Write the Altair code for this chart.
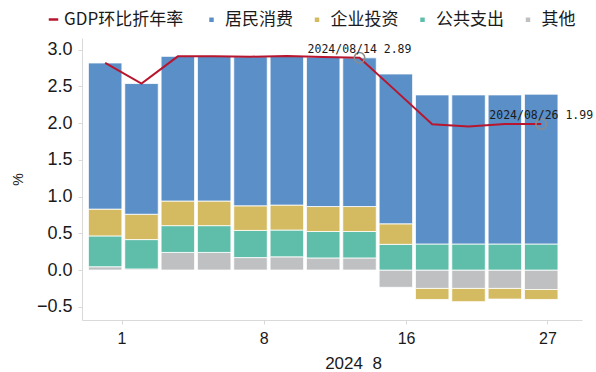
import json
import altair as alt
import pandas as pd

# ---- data ----
bar_index = list(range(13))
consumption = [1.99, 1.78, 1.97, 1.97, 2.03, 2.03, 2.035, 2.025, 2.04, 2.03, 2.03, 2.03, 2.04]
investment = [0.365, 0.345, 0.335, 0.335, 0.335, 0.34, 0.34, 0.34, 0.28, -0.15, -0.18, -0.145, -0.135]
public = [0.42, 0.40, 0.365, 0.365, 0.37, 0.365, 0.36, 0.36, 0.35, 0.355, 0.355, 0.355, 0.355]
other = [0.045, 0.015, 0.24, 0.24, 0.17, 0.18, 0.165, 0.165, -0.235, -0.25, -0.25, -0.25, -0.265]
gdp = [2.82, 2.54, 2.91, 2.91, 2.905, 2.915, 2.90, 2.89, 2.44, 1.985, 1.955, 1.99, 1.99]

line_name = "GDP环比折年率"
line_color = "#B7162E"
bar_names = ["居民消费", "企业投资", "公共支出", "其他"]
bar_colors = ["#5B8FC8", "#D4BB62", "#5FBEAA", "#BFC0C2"]

ann_index = [7, 12]
ann_labels = ["2024/08/14 2.89", "2024/08/26 1.99"]

tick_labels = ["1", "8", "16", "27"]
tick_pos = [0.45, 4.36, 8.28, 12.17]
y_ticks = [-0.5, 0.0, 0.5, 1.0, 1.5, 2.0, 2.5, 3.0]

# ---- tables ----
rows = []
for name, vals, order in [("其他", other, 0), ("公共支出", public, 1),
                          ("企业投资", investment, 2), ("居民消费", consumption, 3)]:
    for i, v in zip(bar_index, vals):
        rows.append({"idx": i, "series": name, "value": v, "order": order})
bars_df = pd.DataFrame(rows)

line_df = pd.DataFrame({"idx": bar_index, "value": gdp, "series": line_name})
ann_df = pd.DataFrame({
    "idx": ann_index,
    "value": [gdp[i] for i in ann_index],
    "label": ann_labels,
})

x_scale = alt.Scale(domain=[-0.5, 12.985], nice=False, zero=False)
y_scale = alt.Scale(domain=[-0.68, 3.16], nice=False)

legend_common = dict(
    title=None,
    orient="none",
    direction="horizontal",
    labelFont="Noto Sans CJK SC",
    labelFontSize=17,
    labelColor="#1a1a1a",
    padding=0,
)

line_legend = alt.Legend(
    legendX=-37, legendY=-27, symbolType="stroke", symbolSize=90,
    symbolStrokeWidth=2.5, labelOffset=2, **legend_common,
)
bar_legend = alt.Legend(
    legendX=121, legendY=-27, symbolType="square", symbolSize=20,
    symbolStrokeWidth=0, labelOffset=5, columnPadding=15.5, **legend_common,
)

x_axis = alt.Axis(
    values=tick_pos,
    labelExpr=f"{json.dumps(tick_labels)}[indexof({json.dumps(tick_pos)}, datum.value)]",
    title="2024\u00a0\u00a08",
    grid=False,
    tickSize=4,
    labelPadding=6,
    labelFont="Liberation Sans",
    labelFontSize=16,
    labelColor="#1a1a1a",
    titleFont="Liberation Sans",
    titleFontSize=17,
    titleFontWeight="normal",
    titleColor="#1a1a1a",
    titleX=271,
    titleY=48,
    titleBaseline="alphabetic",
)

y_axis = alt.Axis(
    values=y_ticks,
    format=".1f",
    title="%",
    grid=False,
    tickSize=4,
    labelPadding=6,
    labelFont="Liberation Sans",
    labelFontSize=18,
    labelColor="#1a1a1a",
    titleFont="Liberation Sans",
    titleFontSize=14,
    titleFontWeight="normal",
    titleColor="#1a1a1a",
    titlePadding=11,
)

bars = alt.Chart(bars_df).mark_bar(width=33.5, stroke="white", strokeWidth=0.8).encode(
    x=alt.X("idx:Q", scale=x_scale, axis=x_axis),
    y=alt.Y("value:Q", scale=y_scale, axis=y_axis, stack="zero"),
    fill=alt.Fill("series:N", scale=alt.Scale(domain=bar_names, range=bar_colors),
                  legend=bar_legend),
    order=alt.Order("order:Q", sort="ascending"),
)

line = alt.Chart(line_df).mark_line(strokeWidth=2).encode(
    x=alt.X("idx:Q", scale=x_scale),
    y=alt.Y("value:Q", scale=y_scale),
    stroke=alt.Stroke("series:N", scale=alt.Scale(domain=[line_name], range=[line_color]),
                      legend=line_legend),
)

circles = alt.Chart(ann_df).mark_point(
    shape="circle", size=110, filled=False, stroke="#8C8C8C", strokeWidth=1.5, opacity=1
).encode(
    x=alt.X("idx:Q", scale=x_scale),
    y=alt.Y("value:Q", scale=y_scale),
)

texts = alt.Chart(ann_df).mark_text(
    font="DejaVu Sans Mono", fontSize=11.5, dy=-5, baseline="alphabetic", align="center",
    color="#1a1a1a",
).encode(
    x=alt.X("idx:Q", scale=x_scale),
    y=alt.Y("value:Q", scale=y_scale),
    text="label:N",
)

chart = alt.layer(bars, line, circles, texts).properties(
    width=500,
    height=282,
    padding={"left": 82, "top": 38, "right": 14, "bottom": 52},
    autosize="none",
).configure_view(stroke=None).configure_axis(
    domainColor="#D9D9D9", tickColor="#D9D9D9"
)

chart.save("out.html", embed_options={"renderer": "svg", "actions": False})
